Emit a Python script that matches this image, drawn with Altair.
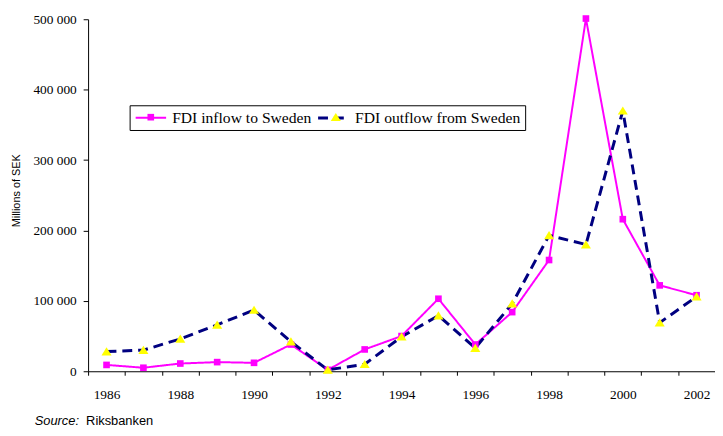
import altair as alt
import pandas as pd

years = list(range(1986, 2003))
inflow = [9000, 5000, 11000, 13000, 12000, 38000, 2000, 31000, 50000,
          103000, 38000, 84000, 158000, 501000, 216000, 122000, 108000]
outflow = [28000, 30000, 46000, 66000, 87000, 42000, 2000, 10000, 49000,
           79000, 33000, 96000, 193000, 180000, 370000, 69000, 106000]
series_names = ["FDI inflow to Sweden", "FDI outflow from Sweden"]
y_ticks = [0, 100000, 200000, 300000, 400000, 500000]
y_title = "Millions of SEK"
source_label = "Source:"
source_name = "Riksbanken"

rows = []
for name, vals in zip(series_names, [inflow, outflow]):
    for yr, v in zip(years, vals):
        rows.append({"year": yr, "value": v, "series": name, "series_p": name})
df = pd.DataFrame(rows)

serif = "Liberation Serif"
sans = "Liberation Sans"

# marker shapes as unit-relative paths (square and upward triangle)
square_path = "M-0.5,-0.5H0.5V0.5H-0.5Z"
triangle_path = "M0,-0.62L0.72,0.55H-0.72Z"
legend_line_path = "M-2.2,0H2.2"

x_enc = alt.X(
    "year:O",
    bandPosition=0.5,
    scale=alt.Scale(type="band", paddingInner=0, paddingOuter=0),
    axis=alt.Axis(
        title=None, tickBand="extent", labelAngle=0,
        labelExpr="datum.value % 2 == 0 ? datum.label : ''",
        labelOverlap=False, labelFont=serif, labelFontSize=13.5,
        labelColor="black", labelPadding=13, tickSize=4,
        tickColor="black", domainColor="black", grid=False,
    ),
)
y_enc = alt.Y(
    "value:Q",
    scale=alt.Scale(domain=[0, 500000], nice=False, zero=True),
    axis=alt.Axis(
        title=y_title, values=y_ticks,
        labelExpr="datum.value == 0 ? '0' : format(datum.value / 1000, 'd') + ' 000'",
        grid=False, tickSize=5, labelPadding=7, labelFont=serif,
        labelFontSize=13.5, labelColor="black", tickColor="black",
        domainColor="black", titleFont=sans, titleFontSize=11,
        titleFontWeight="normal", titleColor="black",
        titleX=-72, titleY=173, titleBaseline="middle", titleAlign="center",
    ),
)

common_legend = dict(
    orient="none", legendX=42, legendY=87, direction="horizontal",
    title=None, padding=4, symbolSize=196, labelFont=serif,
    labelFontSize=15.8, labelOffset=13.5,
    symbolOffset=9.5, cornerRadius=0, labelLimit=400,
)
line_legend = alt.Legend(
    strokeColor="black", symbolType=legend_line_path, symbolStrokeWidth=2.5,
    labelColor="black", columnPadding=0, zindex=1, **common_legend,
)
# marker-only legend laid over the line legend (no labels of its own)
point_legend = alt.Legend(
    labelExpr="''", columnPadding=148, zindex=2, **common_legend,
)

lines = alt.Chart(df).mark_line().encode(
    x=x_enc,
    y=y_enc,
    stroke=alt.Stroke("series:N", scale=alt.Scale(domain=series_names, range=["#FF00FF", "#000080"]), legend=line_legend),
    strokeDash=alt.StrokeDash("series:N", scale=alt.Scale(domain=series_names, range=[[1, 0], [10, 6]]), legend=line_legend),
    strokeWidth=alt.StrokeWidth("series:N", scale=alt.Scale(domain=series_names, range=[2, 3]), legend=None),
    order=alt.Order("year:O"),
)

points = alt.Chart(df).mark_point(filled=True, opacity=1).encode(
    x=x_enc,
    y=y_enc,
    color=alt.Color("series_p:N", scale=alt.Scale(range=["#FF00FF", "#FFFF00"]), legend=point_legend),
    shape=alt.Shape("series_p:N", scale=alt.Scale(range=[square_path, triangle_path]), legend=point_legend),
    size=alt.Size("series_p:N", scale=alt.Scale(range=[180, 200]), legend=None),
)

src1 = alt.Chart(pd.DataFrame({"label": [source_label]})).mark_text(
    font=sans, fontSize=13, fontStyle="italic", align="left", baseline="alphabetic", color="black"
).encode(text="label:N", x=alt.value(-54), y=alt.value(410))
src2 = alt.Chart(pd.DataFrame({"label": [source_name]})).mark_text(
    font=sans, fontSize=13, align="left", baseline="alphabetic", color="black"
).encode(text="label:N", x=alt.value(-2), y=alt.value(410))

chart = alt.layer(lines, points, src1, src2).properties(
    width=634, height=356,
    padding={"left": 81, "top": 9, "right": 0, "bottom": 55},
    autosize=alt.AutoSizeParams(type="none"),
    background="white",
).configure_view(stroke=None)

chart.save("out.html", embed_options={"renderer": "svg", "actions": False})
